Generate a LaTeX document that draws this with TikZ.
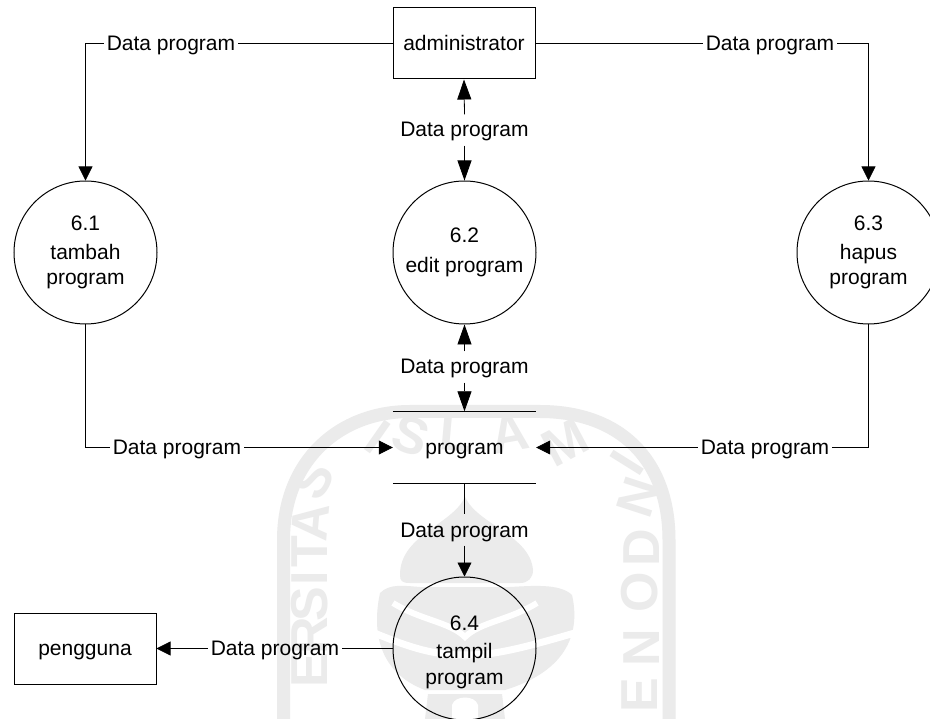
\documentclass[tikz,border=0pt]{standalone}
\usepackage{fontspec}
\setmainfont{Liberation Sans}
\usetikzlibrary{arrows.meta}
\definecolor{wm}{HTML}{EBEBEB}
\tikzset{
  x=1pt,y=-1pt,
  every node/.style={font=\fontsize{21}{25.5}\selectfont,text=black},
  ent/.style={draw,line width=1pt,minimum width=142pt,minimum height=71pt,inner sep=0pt,text height=17pt,text depth=3pt},
  proc/.style={draw,circle,line width=1pt,minimum size=143pt,inner sep=0pt,align=center},
  storebox/.style={minimum width=143pt,minimum height=72pt,inner sep=0pt,text height=17pt,text depth=3pt},
  flow/.style={line width=0.8pt},
  head/.style={-{Triangle[length=14pt,width=14pt]}},
  longhead/.style={-{Triangle[length=20pt,width=14pt]}},
  flabel/.style={inner xsep=3pt,inner ysep=5.5pt,text height=17pt,text depth=3pt},
  wmletter/.style={font=\fontsize{52}{52}\bfseries\selectfont,text=wm,inner sep=0pt},
}
\begin{document}
\begin{tikzpicture}
\useasboundingbox (0,0) rectangle (930,719);
\fill[white] (0,0) rectangle (930,719);
% watermark, under the drawing
\draw[wm,line width=13pt] (283.5,719) -- (283.5,540) .. controls (283.5,460) and (340,411.5) .. (410,411.5) -- (540,411.5) .. controls (620,411.5) and (669,460) .. (669,540) -- (669,719);
\node[wmletter,rotate=-35] (w1) at (378,437) {I};
\node[wmletter,rotate=-20] (w2) at (411,436) {S};
\node[wmletter,rotate=-5] (w3) at (456,433) {L};
\node[wmletter,rotate=10] (w4) at (510,434) {A};
\node[wmletter,rotate=28] (w5) at (565,443) {M};
\node[wmletter,rotate=58] (w6) at (627,463) {I};
\node[wmletter,rotate=72] (w7) at (638,497) {N};
\node[wmletter,rotate=90] (w8) at (642,548) {D};
\node[wmletter,rotate=90] (w9) at (640,592) {O};
\node[wmletter,rotate=90] (w10) at (642,648) {N};
\node[wmletter,rotate=90] (w11) at (640,695) {E};
\node[wmletter,rotate=60] (w12) at (313,480) {S};
\node[wmletter,rotate=85] (w13) at (310,522) {A};
\node[wmletter,rotate=90] (w14) at (310,552) {T};
\node[wmletter,rotate=90] (w15) at (310,578) {I};
\node[wmletter,rotate=90] (w16) at (310,604) {S};
\node[wmletter,rotate=90] (w17) at (310,636) {R};
\node[wmletter,rotate=90] (w18) at (310,670) {E};
\fill[wm] (465,497) .. controls (452,525) and (400,535) .. (400,575) .. controls (400,581) and (402,583) .. (410,583) -- (520,583) .. controls (528,583) and (533,578) .. (533,570) .. controls (530,535) and (478,525) .. (465,497) -- cycle;
\fill[wm] (380,593) .. controls (390,583) and (405,586) .. (420,587) -- (510,587) .. controls (530,586) and (560,583) .. (572,595) .. controls (580,630) and (570,670) .. (505,690) -- (425,690) .. controls (385,675) and (370,640) .. (380,593) -- cycle;
\draw[white,line width=6pt] (393,603) .. controls (420,620) and (450,622) .. (465,637) .. controls (480,622) and (510,620) .. (537,603);
\draw[white,line width=7pt] (372,632) .. controls (420,652) and (440,655) .. (465,655) .. controls (490,655) and (510,652) .. (578,632);
\fill[wm] (428,694) -- (502,694) -- (505,719) -- (425,719) -- cycle;
\fill[white] (452,719) -- (452,705) .. controls (455,695) and (475,695) .. (478,705) -- (478,719) -- cycle;
% nodes
\node[ent] (adm) at (464,43.5) {administrator};
\node[ent] (usr) at (85,648.5) {pengguna};
\node[proc] (p1) at (85.5,252.5) {6.1\\[3pt]tambah\\program};
\node[proc] (p2) at (464.5,252.5) {6.2\\[5pt]edit program};
\node[proc] (p3) at (868.5,252.5) {6.3\\[3pt]hapus\\program};
\node[proc] (p4) at (464.5,648.5) {\rule{0pt}{22pt}6.4\\[3pt]tampil\\program};
\node[storebox] (st) at (464.5,447.5) {program};
\draw[line width=1pt] (st.north west) -- (st.north east) (st.south west) -- (st.south east);
% labels
\node[flabel] (l1) at (171,43.5) {Data program};
\node[flabel] (l2) at (770,43.5) {Data program};
\node[flabel] (l3) at (464.5,130) {Data program};
\node[flabel] (l4) at (464.5,367) {Data program};
\node[flabel] (l5) at (177,447.5) {Data program};
\node[flabel] (l6) at (765,447.5) {Data program};
\node[flabel] (l7) at (464.5,530) {Data program};
\node[flabel] (l8) at (275,648.5) {Data program};
% connectors
\draw[flow] (adm.west) -- (l1.east);
\draw[flow,head] (l1.west) -| (p1.north);
\draw[flow] (adm.east) -- (l2.west);
\draw[flow,head] (l2.east) -| (p3.north);
\draw[flow,longhead] (l3.north) -- (adm.south);
\draw[flow,longhead] (l3.south) -- (p2.north);
\draw[flow,longhead] (l4.north) -- (p2.south);
\draw[flow,longhead] (l4.south) -- (st.north);
\draw[flow] (p1.south) |- (l5.west);
\draw[flow,head] (l5.east) -- (st.west);
\draw[flow] (p3.south) |- (l6.east);
\draw[flow,head] (l6.west) -- (st.east);
\draw[flow] (st.south) -- (l7.north);
\draw[flow,head] (l7.south) -- (p4.north);
\draw[flow] (p4.west) -- (l8.east);
\draw[flow,head] (l8.west) -- (usr.east);
\end{tikzpicture}
\end{document}
